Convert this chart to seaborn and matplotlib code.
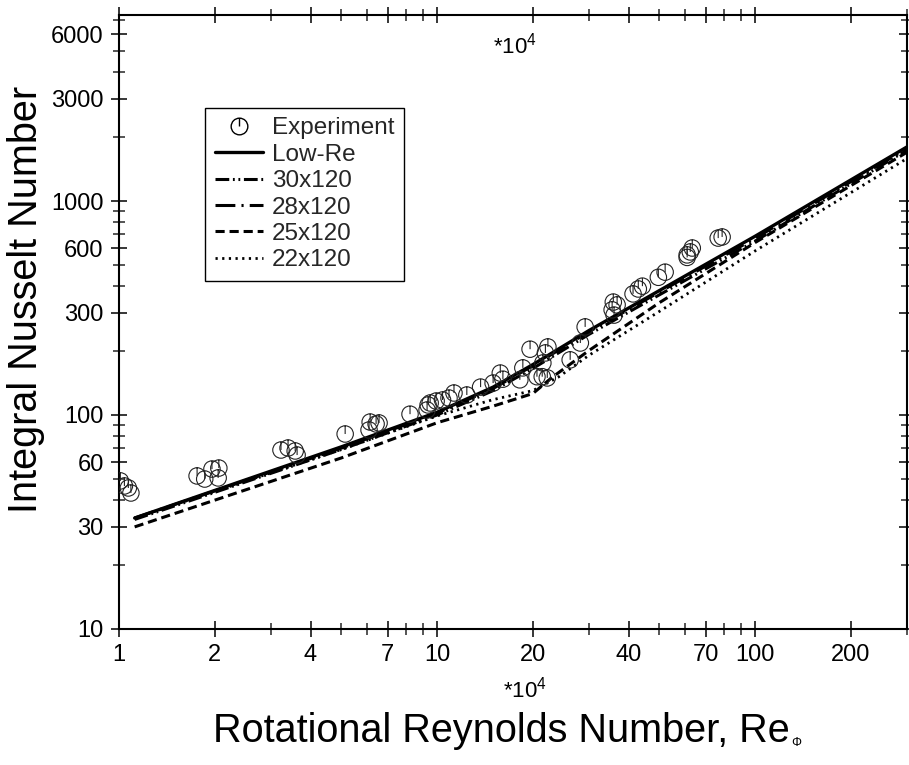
import numpy as np
import pandas as pd
import matplotlib
matplotlib.use('Agg')
import matplotlib.pyplot as plt
import matplotlib.path as mpath
from matplotlib.lines import Line2D
from matplotlib.ticker import FixedLocator, NullFormatter
import seaborn as sns

# experimental points (Re_phi in units of 1e4, Nu)
exp_re = [1.01, 1.04, 1.07, 1.09,
          1.76, 1.86, 1.96, 2.06, 2.05,
          3.23, 3.40, 3.58, 3.63,
          5.14,
          6.16, 6.43, 6.57, 6.11,
          8.22,
          9.3, 9.51, 9.93, 9.37,
          10.4, 10.9, 11.3, 12.4, 13.7, 15.0, 15.8, 16.1, 18.2, 18.6, 19.6,
          20.6, 21.4, 22.2, 21.5, 22.3, 21.9, 26.2, 29.2, 28.2,
          35.8, 35.5, 36.0, 36.8, 41.3, 42.9, 44.2, 49.6, 52.1,
          61.1, 61.1, 62.5, 63.4, 76.5, 78.7]
exp_nu = [49.2, 46.6, 45.6, 43.2,
          51.9, 50.2, 55.9, 56.5, 50.8,
          68.6, 70.1, 67.9, 65.0,
          81.5,
          92.7, 90.8, 91.8, 85.1,
          100.9,
          105.5, 113.8, 116.2, 111.4,
          117.5, 120, 126.7, 124, 135, 141, 157, 147, 146, 166, 203,
          151, 151, 149, 175, 208, 195, 181, 258, 217,
          337, 310, 293, 327, 368, 388, 400, 440, 465,
          545, 560, 578, 603, 671, 679]

# computed curves
re_band = [1.12, 5, 10, 15, 20, 30, 100, 300]
nu_lowre = [33, 71, 103, 135, 172, 248, 685, 1790]
nu_30x120 = [32.5, 69, 100, 130, 165, 238, 650, 1730]
nu_28x120 = [33, 70, 102, 133, 170, 245, 670, 1760]

re_25 = [1.12, 5, 10, 15, 20, 23, 30, 50, 100, 300]
nu_25x120 = [30, 63, 92, 110, 126, 150, 200, 335, 640, 1690]
re_22 = [1.12, 5, 10, 15, 20, 24, 30, 50, 100, 300]
nu_22x120 = [33, 69, 99, 118, 130, 150, 190, 305, 585, 1580]

x_major = [1, 2, 4, 7, 10, 20, 40, 70, 100, 200]
x_minor = [3, 5, 6, 8, 9, 30, 50, 60, 80, 90, 300]
y_major = [10, 30, 60, 100, 300, 600, 1000, 3000, 6000]
y_minor = [20, 40, 50, 70, 80, 90, 200, 400, 500, 700, 800, 900, 2000, 4000, 5000, 7000]

sns.set_theme(style='ticks')
plt.rcParams['font.family'] = ['Liberation Sans', 'DejaVu Sans']
plt.rcParams['mathtext.fontset'] = 'custom'
plt.rcParams['mathtext.rm'] = 'Liberation Sans'
plt.rcParams['mathtext.it'] = 'Liberation Sans'

fig = plt.figure(figsize=(9.09, 7.65), dpi=100)
ax = fig.add_axes([0.1309, 0.1778, 0.8669, 0.8026])

# circle with a tick from the top to the centre
circ = mpath.Path.unit_circle()
mark = mpath.Path(np.vstack([circ.vertices, [[0, 1], [0, 0]]]),
                  np.concatenate([circ.codes, [mpath.Path.MOVETO, mpath.Path.LINETO]]))

styles = {
    'Low-Re': ('-', 2.4),
    '30x120': ((0, (4.5, 1.2, 0.6, 1.2, 0.6, 1.2)), 2.2),
    '28x120': ((0, (6.5, 2.0, 0.7, 2.0)), 2.2),
    '25x120': ((0, (3.0, 1.6)), 2.2),
    '22x120': ((0, (0.8, 1.6)), 2.0),
}
curves = {
    'Low-Re': (re_band, nu_lowre),
    '30x120': (re_band, nu_30x120),
    '28x120': (re_band, nu_28x120),
    '25x120': (re_25, nu_25x120),
    '22x120': (re_22, nu_22x120),
}

for name, (xs, ys) in curves.items():
    ls, lw = styles[name]
    sns.lineplot(x=xs, y=ys, ax=ax, color='black', linestyle=ls, lw=lw,
                 estimator=None, sort=False)

sns.scatterplot(x=exp_re, y=exp_nu, ax=ax, marker=mark, s=140,
                facecolors='none', edgecolor='#222222', linewidth=0.8, zorder=3)

ax.set_xscale('log')
ax.set_yscale('log')
ax.set_xlim(1, 300)
ax.set_ylim(10, 7400)

ax.xaxis.set_major_locator(FixedLocator(x_major))
ax.xaxis.set_minor_locator(FixedLocator(x_minor))
ax.yaxis.set_major_locator(FixedLocator(y_major))
ax.yaxis.set_minor_locator(FixedLocator(y_minor))
ax.set_xticklabels([str(v) for v in x_major])
ax.set_yticklabels([str(v) for v in y_major])
ax.xaxis.set_minor_formatter(NullFormatter())
ax.yaxis.set_minor_formatter(NullFormatter())

for s in ax.spines.values():
    s.set_linewidth(1.5)
    s.set_color('black')
ax.tick_params(which='major', direction='inout', length=12, width=1.1,
               top=True, right=True, labelsize=17, colors='black', pad=5)
ax.tick_params(which='minor', direction='inout', length=8, width=1.1,
               top=True, right=True)

ax.set_xlabel('Rotational Reynolds Number, Re', fontsize=28.5, color='black')
ax.xaxis.set_label_coords(0.485, -0.135)
ax.set_ylabel('Integral Nusselt Number', fontsize=28.5, color='black')
ax.yaxis.set_label_coords(-0.094, 0.536)
ax.annotate('\u03a6', xy=(1, 0), xycoords=ax.xaxis.label, xytext=(1, 3),
            textcoords='offset points', fontsize=9, color='black')

ax.text(0.515, -0.099, '*10$^{4}$', transform=ax.transAxes, ha='center',
        va='center', fontsize=16, color='black')
ax.text(0.503, 0.951, '*10$^{4}$', transform=ax.transAxes, ha='center',
        va='center', fontsize=16, color='black')

handles = [Line2D([], [], ls='none', marker=mark, ms=12, mfc='none',
                  mec='black', mew=1.0)]
labels = ['Experiment']
for name in ['Low-Re', '30x120', '28x120', '25x120', '22x120']:
    ls, lw = styles[name]
    handles.append(Line2D([], [], color='black', ls=ls, lw=lw))
    labels.append(name)
leg = ax.legend(handles, labels, loc='upper left', bbox_to_anchor=(0.109, 0.849),
                fontsize=17.5, frameon=True, fancybox=False, framealpha=1,
                edgecolor='black', handlelength=2.0, handletextpad=0.35,
                labelspacing=0.18, borderpad=0.4, borderaxespad=0)
leg.get_frame().set_linewidth(1.0)

fig.savefig('out.png', dpi=100, facecolor='white')
